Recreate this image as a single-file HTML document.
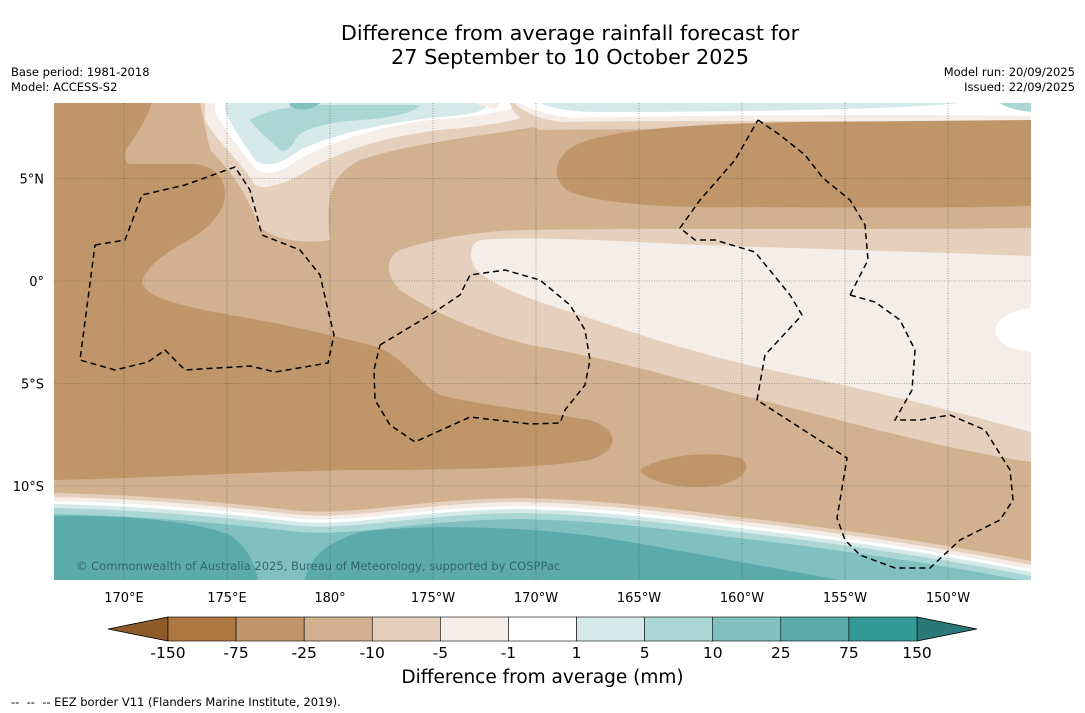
<!DOCTYPE html>
<html><head><meta charset="utf-8">
<style>
html,body{margin:0;padding:0;background:#fff;}
body{width:1085px;height:713px;position:relative;overflow:hidden;font-family:"DejaVu Sans","Liberation Sans",sans-serif;color:#000;}
.t{position:absolute;white-space:nowrap;}
</style></head>
<body>
<div class="t" style="left:0;width:1140px;top:21px;text-align:center;font-size:20.8px;line-height:24px;">Difference from average rainfall forecast for<br>27 September to 10 October 2025</div>
<div class="t" style="left:11px;top:65px;font-size:11.5px;line-height:15px;">Base period: 1981-2018<br>Model: ACCESS-S2</div>
<div class="t" style="right:10px;top:65px;font-size:11.5px;line-height:15px;text-align:right;">Model run: 20/09/2025<br>Issued: 22/09/2025</div>

<svg id="map" width="1085" height="713" style="position:absolute;left:0;top:0" xmlns="http://www.w3.org/2000/svg">
<defs><clipPath id="mc"><rect x="54" y="103" width="977" height="477"/></clipPath>
<path id="bot" d="M54,498 C150,500 230,508 300,516 C360,520 420,504 520,503 C620,505 700,518 780,527 C860,537 950,550 1031,566 L1031,600 L54,600 Z"/></defs>
<g clip-path="url(#mc)">
<rect x="54" y="103" width="977" height="477" fill="#d2b190"/>
<path d="M200,103 L560,103 L560,122 C500,135 420,140 360,160 C330,175 325,200 330,240 C300,245 270,238 258,225 C250,200 235,175 210,150 Z" fill="#e4d0bd"/>
<path d="M205,103 L545,103 C540,118 500,125 440,130 C380,138 340,150 300,175 C280,185 265,190 255,185 C240,160 215,140 205,120 Z" fill="#f5ede7"/>
<path d="M215,103 L525,103 C510,112 470,118 430,120 C370,128 320,145 290,165 C275,175 262,175 255,168 C240,150 225,130 215,112 Z" fill="#fff"/>
<path d="M225,103 L485,103 C490,112 470,115 430,118 C380,124 330,135 300,150 C280,165 265,168 255,160 C245,145 232,128 225,110 Z" fill="#d4e9e8"/>
<path d="M250,120 C270,108 300,105 330,105 L420,105 C415,113 390,118 360,120 C330,122 300,128 295,140 C290,150 285,152 280,150 C270,140 255,128 250,120 Z" fill="#aad6d5"/>
<path d="M290,103 L320,103 C312,110 300,112 290,106 Z" fill="#80c0bf"/>
<path d="M510,103 L1031,103 L1031,128 C900,130 700,128 540,130 C520,120 512,112 510,103 Z" fill="#e4d0bd"/>
<path d="M515,103 L1031,103 L1031,122 C900,122 700,120 560,122 C535,118 520,110 515,103 Z" fill="#f5ede7"/>
<path d="M520,103 L1031,103 L1031,116 C900,114 700,115 570,118 C545,114 528,108 520,103 Z" fill="#fff"/>
<path d="M540,103 L960,103 C900,110 700,112 600,112 C570,112 550,108 540,103 Z" fill="#d4e9e8"/>
<path d="M1000,103 L1031,103 L1031,112 C1015,110 1005,107 1000,103 Z" fill="#aad6d5"/>
<path d="M475,103 L500,103 L495,110 Z" fill="#f5ede7"/>
<path d="M54,103 L152,103 C146,122 132,140 126,150 C124,158 126,163 130,164 L195,164 C215,166 225,178 225,195 C224,215 205,232 180,245 C160,256 145,270 142,282 C145,295 165,303 230,315 C290,325 330,335 370,345 C400,352 415,380 440,395 C480,405 540,412 590,420 C620,430 620,450 590,460 C530,470 420,470 350,470 C250,472 150,478 54,480 Z" fill="#c0956a"/>
<path d="M580,143 C620,128 700,124 800,122 L1031,120 L1031,206 C950,208 850,208 760,207 C680,208 610,206 570,192 C550,180 552,155 580,143 Z" fill="#c0956a"/>
<path d="M640,470 C660,455 710,450 740,458 C752,465 748,478 720,485 C690,490 650,485 640,470 Z" fill="#c0956a"/>
<path d="M400,250 C430,240 470,232 520,230 C650,228 850,230 1031,228 L1031,462 C950,450 870,428 780,405 C700,385 620,360 530,345 C470,330 430,310 400,290 C385,275 385,258 400,250 Z" fill="#e4d0bd"/>
<path d="M480,240 C520,236 600,240 700,245 C850,250 950,253 1031,256 L1031,432 C950,410 870,390 780,372 C700,355 640,335 580,315 C530,300 490,285 475,268 C468,255 470,244 480,240 Z" fill="#f5ede7"/>
<path d="M1031,308 C1010,310 995,320 995,332 C998,345 1015,350 1031,352 Z" fill="#fff"/>
<use href="#bot" transform="translate(0,-5)" fill="#e4d0bd"/>
<use href="#bot" transform="translate(0,-1)" fill="#f5ede7"/>
<use href="#bot" transform="translate(0,3)" fill="#fff"/>
<use href="#bot" transform="translate(0,6)" fill="#d4e9e8"/>
<use href="#bot" transform="translate(0,10)" fill="#aad6d5"/>
<use href="#bot" transform="translate(0,16)" fill="#80c0bf"/>
<path d="M54,516 C120,515 190,520 230,535 C250,550 255,565 258,580 L54,580 Z" fill="#5babab"/>
<path d="M305,580 C310,560 320,545 360,532 C420,524 520,526 600,537 C680,550 760,566 840,580 Z" fill="#5babab"/>
<g id="grid" stroke="#444" stroke-width="0.6" stroke-dasharray="1,1.5" opacity="0.8"></g>
<g fill="none" stroke="#000" stroke-width="1.5" stroke-dasharray="6,4">
<polyline points="95,245 125,240 142,195 185,185 235,167 250,190 262,235 300,250 320,275 328,310 334,335 328,363 275,372 250,366 185,370 165,350 148,362 115,370 80,360 95,245"/>
<polyline points="380,345 430,315 460,295 470,275 505,270 540,280 570,305 585,330 590,360 585,385 565,410 560,423 530,424 470,417 415,442 390,425 375,400 374,370 380,345"/>
<polyline points="758,120 780,135 805,155 823,178 850,200 865,225 868,260 850,295"/>
<polyline points="850,295 875,302 900,320 915,350 912,390 895,420 920,420 950,415 985,430 1010,470 1013,500 1000,520 960,540 930,568 895,568 860,555 845,540 837,518 847,458 757,400 765,355 802,315 790,295 755,252 715,240 695,240 680,228 700,200 735,160 758,120"/>
</g>
<text x="76" y="570" font-size="11.5" fill="#2f5f66" opacity="0.9" font-family="DejaVu Sans, sans-serif">© Commonwealth of Australia 2025, Bureau of Meteorology, supported by COSPPac</text>
</g>
<g id="axlabels" font-size="13" font-family="DejaVu Sans, sans-serif"></g>
<g id="cbar"></g>
</svg>
<div class="t" style="left:0;width:1085px;top:667px;text-align:center;font-size:18.5px;">Difference from average (mm)</div>
<div class="t" style="left:11px;top:695px;font-size:11.5px;">--&nbsp; --&nbsp; -- EEZ border V11 (Flanders Marine Institute, 2019).</div>
<script>
const NS='http://www.w3.org/2000/svg';
const lonLabels=['170°E','175°E','180°','175°W','170°W','165°W','160°W','155°W','150°W'];
const lonValues=[170,175,180,185,190,195,200,205,210];
const latLabels=['5°N','0°','5°S','10°S'];
const latValues=[5,0,-5,-10];
const levels=['-150','-75','-25','-10','-5','-1','1','5','10','25','75','150'];
const colors=['#ad7741','#c0956a','#d2b190','#e4d0bd','#f5ede7','#ffffff','#d4e9e8','#aad6d5','#80c0bf','#5babab','#339a98'];
const xs=lon=>124+(lon-170)*20.6;
const ys=lat=>281-lat*20.5;
const grid=document.getElementById('grid'), ax=document.getElementById('axlabels');
lonValues.forEach((v,i)=>{
 const l=document.createElementNS(NS,'line');
 
 
 l.setAttribute('x1',xs(v));l.setAttribute('x2',xs(v));l.setAttribute('y1',103);l.setAttribute('y2',580);grid.appendChild(l);
 const t=document.createElementNS(NS,'text');
 
 
 t.setAttribute('x',xs(v));t.setAttribute('y',602);t.setAttribute('text-anchor','middle');t.textContent=lonLabels[i];ax.appendChild(t);
});
latValues.forEach((v,i)=>{
 const l=document.createElementNS(NS,'line');
 
 
 l.setAttribute('x1',54);l.setAttribute('x2',1031);l.setAttribute('y1',ys(v));l.setAttribute('y2',ys(v));grid.appendChild(l);
 const t=document.createElementNS(NS,'text');
 
 
 t.setAttribute('x',44);t.setAttribute('y',ys(v)+5);t.setAttribute('text-anchor','end');t.textContent=latLabels[i];ax.appendChild(t);
});
const cb=document.getElementById('cbar');
const x0=168,x1=917,y0=617,h=24,w=(x1-x0)/colors.length;
const lt=document.createElementNS(NS,'polygon');


lt.setAttribute('points',`${x0},${y0} ${x0},${y0+h} 108,${y0+h/2}`);lt.setAttribute('fill','#8f5a2a');lt.setAttribute('stroke','#000');lt.setAttribute('stroke-width','0.8');cb.appendChild(lt);
const rt=document.createElementNS(NS,'polygon');


rt.setAttribute('points',`${x1},${y0} ${x1},${y0+h} 977,${y0+h/2}`);rt.setAttribute('fill','#2a7878');rt.setAttribute('stroke','#000');rt.setAttribute('stroke-width','0.8');cb.appendChild(rt);
colors.forEach((c,i)=>{
 const r=document.createElementNS(NS,'rect');
 
 
 r.setAttribute('x',x0+i*w);r.setAttribute('y',y0);r.setAttribute('width',w);r.setAttribute('height',h);r.setAttribute('fill',c);r.setAttribute('stroke','#000');r.setAttribute('stroke-width','0.6');cb.appendChild(r);
});
levels.forEach((s,i)=>{
 const t=document.createElementNS(NS,'text');
 
 
 t.setAttribute('x',x0+i*w);t.setAttribute('y',658);t.setAttribute('text-anchor','middle');t.setAttribute('font-size','15.5');t.setAttribute('font-family','DejaVu Sans, sans-serif');t.textContent=s;cb.appendChild(t);
});
</script>
</body></html>
